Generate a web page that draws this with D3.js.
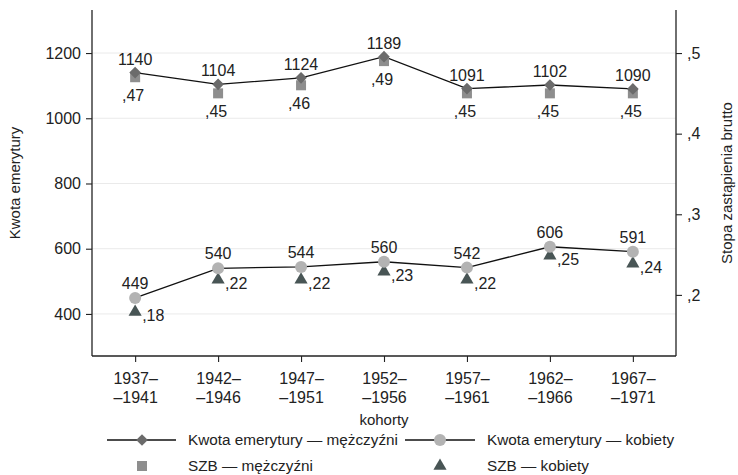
<!DOCTYPE html>
<html>
<head>
<meta charset="utf-8">
<script src="https://cdn.jsdelivr.net/npm/d3@7"></script>
<style>
  body { margin: 0; background: #fff; }
  svg text { font-family: 'Liberation Sans', Arial, sans-serif; fill: #222; }
</style>
</head>
<body>
<div id="svg-container"></div>
<script>
// Data
const cohorts = ['1937–1941', '1942–1946', '1947–1951', '1952–1956', '1957–1961', '1962–1966', '1967–1971']
const kwotaMen = [1140, 1104, 1124, 1189, 1091, 1102, 1090]
const kwotaWomen = [449, 540, 544, 560, 542, 606, 591]
const szbMen = [0.47, 0.45, 0.46, 0.49, 0.45, 0.45, 0.45]
const szbWomen = [0.18, 0.22, 0.22, 0.23, 0.22, 0.25, 0.24]
const leftTicks = [400, 600, 800, 1000, 1200]
const rightTicks = [0.2, 0.3, 0.4, 0.5]

const width = 738
const height = 475
const margin = { top: 10, right: 62, bottom: 119, left: 92 }
const fontSize = 16

const svg = d3
  .select('#svg-container')
  .append('svg')
  .attr('width', width)
  .attr('height', height)

const x = d3
  .scalePoint()
  .domain(cohorts)
  .range([margin.left, width - margin.right])
  .padding(0.52)

const yLeft = d3
  .scaleLinear()
  .domain([271, 1332])
  .range([height - margin.bottom, margin.top])

const yRight = d3
  .scaleLinear()
  .domain([0.1242, 0.5534])
  .range([height - margin.bottom, margin.top])

const fmtRate = d => d3.format('.2f')(d).replace('0.', ',')
const fmtTick = d => d3.format('.1f')(d).replace('0.', ',')

// gridlines
svg
  .append('g')
  .selectAll('line')
  .data(leftTicks)
  .join('line')
  .attr('x1', margin.left)
  .attr('x2', width - margin.right)
  .attr('y1', d => yLeft(d))
  .attr('y2', d => yLeft(d))
  .attr('stroke', '#eaeaea')
  .attr('stroke-width', 1)

// axes
const axisLeft = svg
  .append('g')
  .attr('transform', `translate(${margin.left},0)`)
  .call(d3.axisLeft(yLeft).tickValues(leftTicks).tickSize(6).tickPadding(5).tickFormat(d3.format('d')))
const axisRight = svg
  .append('g')
  .attr('transform', `translate(${width - margin.right},0)`)
  .call(d3.axisRight(yRight).tickValues(rightTicks).tickSize(6).tickPadding(5).tickFormat(fmtTick))
const axisBottom = svg
  .append('g')
  .attr('transform', `translate(0,${height - margin.bottom})`)
  .call(d3.axisBottom(x).tickSize(6).tickFormat(''))

;[axisLeft, axisRight, axisBottom].forEach(g => {
  g.select('.domain').attr('stroke', '#222').attr('stroke-width', 1.3)
  g.selectAll('.tick line').attr('stroke', '#222').attr('stroke-width', 1.1)
  g.selectAll('.tick text').style('font-size', `${fontSize}px`).attr('fill', '#222')
})
// extend left/right axis lines to full height, no outer ticks
axisLeft.select('.domain').attr('d', `M0,${margin.top}V${height - margin.bottom}`)
axisRight.select('.domain').attr('d', `M0,${margin.top}V${height - margin.bottom}`)
axisBottom.select('.domain').attr('d', `M${margin.left},0H${width - margin.right}`)

// two-line x tick labels
axisBottom
  .selectAll('.tick')
  .append('text')
  .attr('text-anchor', 'middle')
  .style('font-size', `${fontSize}px`)
  .attr('fill', '#222')
  .each(function (d) {
    const [a, b] = d.split('–')
    const t = d3.select(this)
    t.append('tspan').attr('x', 0).attr('y', 28).text(`${a}–`)
    t.append('tspan').attr('x', 0).attr('y', 47).text(`–${b}`)
  })

// axis titles
svg
  .append('text')
  .attr('x', (margin.left + width - margin.right) / 2)
  .attr('y', 425)
  .attr('text-anchor', 'middle')
  .style('font-size', '15px')
  .text('kohorty')
svg
  .append('text')
  .attr('transform', `translate(20,${(margin.top + height - margin.bottom) / 2}) rotate(-90)`)
  .attr('text-anchor', 'middle')
  .style('font-size', '15px')
  .text('Kwota emerytury')
svg
  .append('text')
  .attr('transform', `translate(732,${(margin.top + height - margin.bottom) / 2}) rotate(-90)`)
  .attr('text-anchor', 'middle')
  .style('font-size', '15px')
  .text('Stopa zastąpienia brutto')

const colMenK = '#6b6b6b'
const colMenS = '#8e8e8e'
const colWomK = '#b3b3b3'
const colWomS = '#485555'

const sym = (type, size) => d3.symbol().type(type).size(size)()

const line = d3
  .line()
  .x((d, i) => x(cohorts[i]))
  .y(d => yLeft(d))

// lines
svg.append('path').datum(kwotaMen).attr('d', line).attr('fill', 'none').attr('stroke', '#111').attr('stroke-width', 1.3)
svg.append('path').datum(kwotaWomen).attr('d', line).attr('fill', 'none').attr('stroke', '#111').attr('stroke-width', 1.3)

// SZB men squares
svg
  .append('g')
  .selectAll('path')
  .data(szbMen)
  .join('path')
  .attr('transform', (d, i) => `translate(${x(cohorts[i])},${yRight(d)})`)
  .attr('d', sym(d3.symbolSquare, 100))
  .attr('fill', colMenS)

// Kwota men diamonds
svg
  .append('g')
  .selectAll('path')
  .data(kwotaMen)
  .join('path')
  .attr('transform', (d, i) => `translate(${x(cohorts[i])},${yLeft(d)}) rotate(45)`)
  .attr('d', sym(d3.symbolSquare, 68))
  .attr('fill', colMenK)

// SZB women triangles
svg
  .append('g')
  .selectAll('path')
  .data(szbWomen)
  .join('path')
  .attr('transform', (d, i) => `translate(${x(cohorts[i])},${yRight(d) + 1})`)
  .attr('d', sym(d3.symbolTriangle, 75))
  .attr('fill', colWomS)

// Kwota women circles
svg
  .append('g')
  .selectAll('circle')
  .data(kwotaWomen)
  .join('circle')
  .attr('cx', (d, i) => x(cohorts[i]))
  .attr('cy', d => yLeft(d))
  .attr('r', 6)
  .attr('fill', colWomK)

// labels
const labels = svg.append('g').style('font-size', `${fontSize}px`)
labels
  .selectAll('.lkm')
  .data(kwotaMen)
  .join('text')
  .attr('x', (d, i) => x(cohorts[i]))
  .attr('y', d => yLeft(d) - 8)
  .attr('text-anchor', 'middle')
  .text(d => d)
labels
  .selectAll('.lsm')
  .data(szbMen)
  .join('text')
  .attr('x', (d, i) => x(cohorts[i]) - 2)
  .attr('y', d => yRight(d) + 24)
  .attr('text-anchor', 'middle')
  .text(d => fmtRate(d))
labels
  .selectAll('.lkw')
  .data(kwotaWomen)
  .join('text')
  .attr('x', (d, i) => x(cohorts[i]))
  .attr('y', d => yLeft(d) - 9)
  .attr('text-anchor', 'middle')
  .text(d => d)
labels
  .selectAll('.lsw')
  .data(szbWomen)
  .join('text')
  .attr('x', (d, i) => x(cohorts[i]) + 7)
  .attr('y', d => yRight(d) + 10)
  .attr('text-anchor', 'start')
  .text(d => fmtRate(d))

// legend
const legend = svg.append('g').style('font-size', '15.3px')
const row1 = 440
const row2 = 466
legend.append('line').attr('x1', 107).attr('x2', 176).attr('y1', row1).attr('y2', row1).attr('stroke', '#111').attr('stroke-width', 1.3)
legend.append('path').attr('transform', `translate(142,${row1}) rotate(45)`).attr('d', sym(d3.symbolSquare, 68)).attr('fill', colMenK)
legend.append('text').attr('x', 188).attr('y', row1 + 5).text('Kwota emerytury — mężczyźni')
legend.append('line').attr('x1', 405).attr('x2', 475).attr('y1', row1).attr('y2', row1).attr('stroke', '#111').attr('stroke-width', 1.3)
legend.append('circle').attr('cx', 440).attr('cy', row1).attr('r', 6).attr('fill', colWomK)
legend.append('text').attr('x', 487).attr('y', row1 + 5).text('Kwota emerytury — kobiety')
legend.append('path').attr('transform', `translate(142,${row2})`).attr('d', sym(d3.symbolSquare, 100)).attr('fill', colMenS)
legend.append('text').attr('x', 188).attr('y', row2 + 5).text('SZB — mężczyźni')
legend.append('path').attr('transform', `translate(440,${row2})`).attr('d', sym(d3.symbolTriangle, 75)).attr('fill', colWomS)
legend.append('text').attr('x', 487).attr('y', row2 + 5).text('SZB — kobiety')
</script>
</body>
</html>
